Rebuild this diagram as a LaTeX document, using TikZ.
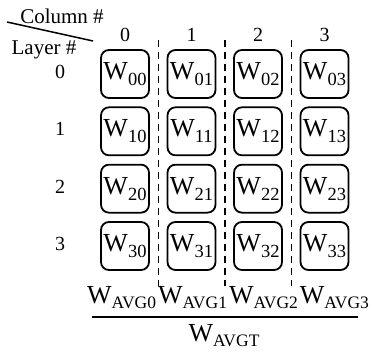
\documentclass[tikz,border=0pt]{standalone}
\usepackage{fontspec}
\setmainfont{Liberation Serif}
\newcommand{\wsub}[1]{W\raisebox{-6pt}{\fontsize{18.5}{18.5}\selectfont #1}}
\newcommand{\wavg}[1]{W\raisebox{-5pt}{\fontsize{17.5}{17.5}\selectfont #1}}
\begin{document}
\begin{tikzpicture}[x=1pt,y=-1pt,
  wbox/.style={draw,line width=1.8pt,rounded corners=8pt,minimum width=48pt,minimum height=48pt,inner sep=0pt,font=\fontsize{26}{26}\selectfont},
  lbl/.style={font=\fontsize{20}{20}\selectfont,inner sep=0pt},
  sep/.style={line width=1.8pt,dash pattern=on 7pt off 5pt}]
\useasboundingbox (0,0) rectangle (375,352);
\foreach \r in {0,1,2,3}{
  \foreach \c in {0,1,2,3}{
    \node[wbox] (w\r\c) at ({125+66.5*\c},{74+57.33*\r}) {\wsub{\r\c}};
  }
  \node[lbl] (r\r) at (60,{72+57.33*\r}) {\r};
  \node[lbl] (c\r) at ({125+66.5*\r},35) {\r};
}
\foreach \x [count=\i] in {158.5,225,291.5}{
  \coordinate (d\i t) at (\x,40);
  \coordinate (d\i b) at (\x,286);
  \draw[sep] (d\i t) -- (d\i b);
}
\node[lbl,font=\fontsize{21}{21}\selectfont] (col) at (62,16) {Column \#};
\node[lbl,font=\fontsize{21}{21}\selectfont] (lay) at (44,50) {Layer \#};
\coordinate (s1) at (7,22);
\coordinate (s2) at (93,41);
\draw[line width=1.5pt] (s1) -- (s2);
\node[anchor=base,inner sep=0pt,font=\fontsize{26}{26}\selectfont] (avg) at (228,304) {\wavg{AVG0}\kern2pt\wavg{AVG1}\kern2pt\wavg{AVG2}\kern2pt\wavg{AVG3}};
\coordinate (f1) at (92,317);
\coordinate (f2) at (358,317);
\draw[line width=2pt] (f1) -- (f2);
\node[anchor=base,inner sep=0pt,font=\fontsize{26}{26}\selectfont] (avgt) at (224,342) {\wavg{AVGT}};
\end{tikzpicture}
\end{document}
